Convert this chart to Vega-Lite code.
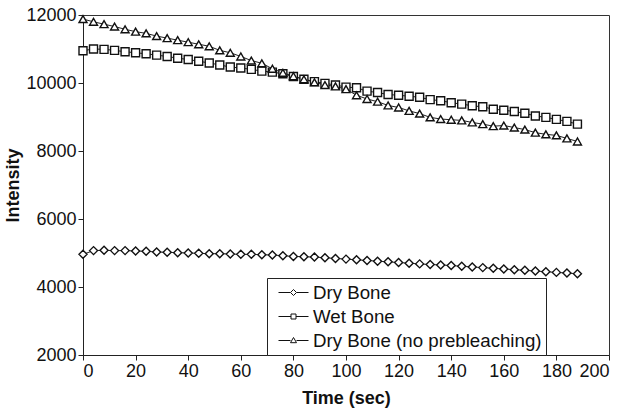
{
  "$schema": "https://vega.github.io/schema/vega-lite/v6.json",
  "width": 526,
  "height": 340,
  "autosize": {"type": "none"},
  "padding": {"left": 83, "top": 15, "right": 18, "bottom": 62},
  "background": "white",
  "config": {
    "font": "Liberation Sans",
    "view": {"stroke": "#333", "strokeWidth": 1},
    "axis": {
      "labelFont": "Liberation Sans", "labelFontSize": 18, "labelColor": "#111",
      "titleFont": "Liberation Sans", "titleFontSize": 18, "titleFontWeight": "bold", "titleColor": "#111",
      "domainColor": "#222", "tickColor": "#222", "tickSize": 5, "grid": false, "labelPadding": 2, "format": "d"
    }
  },
  "datasets": {
    "d": [
      {"t":0,"v":4960,"s":"Dry Bone"},{"t":4,"v":5070,"s":"Dry Bone"},{"t":8,"v":5080,"s":"Dry Bone"},{"t":12,"v":5070,"s":"Dry Bone"},{"t":16,"v":5070,"s":"Dry Bone"},{"t":20,"v":5060,"s":"Dry Bone"},{"t":24,"v":5050,"s":"Dry Bone"},{"t":28,"v":5030,"s":"Dry Bone"},{"t":32,"v":5020,"s":"Dry Bone"},{"t":36,"v":5010,"s":"Dry Bone"},{"t":40,"v":5000,"s":"Dry Bone"},{"t":44,"v":4990,"s":"Dry Bone"},{"t":48,"v":4980,"s":"Dry Bone"},{"t":52,"v":4980,"s":"Dry Bone"},{"t":56,"v":4970,"s":"Dry Bone"},{"t":60,"v":4960,"s":"Dry Bone"},{"t":64,"v":4960,"s":"Dry Bone"},{"t":68,"v":4950,"s":"Dry Bone"},{"t":72,"v":4940,"s":"Dry Bone"},{"t":76,"v":4920,"s":"Dry Bone"},{"t":80,"v":4900,"s":"Dry Bone"},{"t":84,"v":4890,"s":"Dry Bone"},{"t":88,"v":4880,"s":"Dry Bone"},{"t":92,"v":4860,"s":"Dry Bone"},{"t":96,"v":4840,"s":"Dry Bone"},{"t":100,"v":4820,"s":"Dry Bone"},{"t":104,"v":4800,"s":"Dry Bone"},{"t":108,"v":4780,"s":"Dry Bone"},{"t":112,"v":4760,"s":"Dry Bone"},{"t":116,"v":4740,"s":"Dry Bone"},{"t":120,"v":4720,"s":"Dry Bone"},{"t":124,"v":4700,"s":"Dry Bone"},{"t":128,"v":4680,"s":"Dry Bone"},{"t":132,"v":4660,"s":"Dry Bone"},{"t":136,"v":4650,"s":"Dry Bone"},{"t":140,"v":4630,"s":"Dry Bone"},{"t":144,"v":4610,"s":"Dry Bone"},{"t":148,"v":4590,"s":"Dry Bone"},{"t":152,"v":4570,"s":"Dry Bone"},{"t":156,"v":4550,"s":"Dry Bone"},{"t":160,"v":4530,"s":"Dry Bone"},{"t":164,"v":4510,"s":"Dry Bone"},{"t":168,"v":4490,"s":"Dry Bone"},{"t":172,"v":4470,"s":"Dry Bone"},{"t":176,"v":4450,"s":"Dry Bone"},{"t":180,"v":4430,"s":"Dry Bone"},{"t":184,"v":4410,"s":"Dry Bone"},{"t":188,"v":4390,"s":"Dry Bone"},
      {"t":0,"v":10950,"s":"Wet Bone"},{"t":4,"v":11000,"s":"Wet Bone"},{"t":8,"v":10990,"s":"Wet Bone"},{"t":12,"v":10960,"s":"Wet Bone"},{"t":16,"v":10920,"s":"Wet Bone"},{"t":20,"v":10890,"s":"Wet Bone"},{"t":24,"v":10860,"s":"Wet Bone"},{"t":28,"v":10820,"s":"Wet Bone"},{"t":32,"v":10780,"s":"Wet Bone"},{"t":36,"v":10730,"s":"Wet Bone"},{"t":40,"v":10690,"s":"Wet Bone"},{"t":44,"v":10640,"s":"Wet Bone"},{"t":48,"v":10590,"s":"Wet Bone"},{"t":52,"v":10530,"s":"Wet Bone"},{"t":56,"v":10470,"s":"Wet Bone"},{"t":60,"v":10440,"s":"Wet Bone"},{"t":64,"v":10400,"s":"Wet Bone"},{"t":68,"v":10350,"s":"Wet Bone"},{"t":72,"v":10320,"s":"Wet Bone"},{"t":76,"v":10270,"s":"Wet Bone"},{"t":80,"v":10190,"s":"Wet Bone"},{"t":84,"v":10110,"s":"Wet Bone"},{"t":88,"v":10040,"s":"Wet Bone"},{"t":92,"v":9990,"s":"Wet Bone"},{"t":96,"v":9940,"s":"Wet Bone"},{"t":100,"v":9880,"s":"Wet Bone"},{"t":104,"v":9860,"s":"Wet Bone"},{"t":108,"v":9760,"s":"Wet Bone"},{"t":112,"v":9720,"s":"Wet Bone"},{"t":116,"v":9660,"s":"Wet Bone"},{"t":120,"v":9640,"s":"Wet Bone"},{"t":124,"v":9610,"s":"Wet Bone"},{"t":128,"v":9580,"s":"Wet Bone"},{"t":132,"v":9510,"s":"Wet Bone"},{"t":136,"v":9480,"s":"Wet Bone"},{"t":140,"v":9420,"s":"Wet Bone"},{"t":144,"v":9380,"s":"Wet Bone"},{"t":148,"v":9330,"s":"Wet Bone"},{"t":152,"v":9300,"s":"Wet Bone"},{"t":156,"v":9230,"s":"Wet Bone"},{"t":160,"v":9200,"s":"Wet Bone"},{"t":164,"v":9160,"s":"Wet Bone"},{"t":168,"v":9110,"s":"Wet Bone"},{"t":172,"v":9030,"s":"Wet Bone"},{"t":176,"v":8990,"s":"Wet Bone"},{"t":180,"v":8930,"s":"Wet Bone"},{"t":184,"v":8870,"s":"Wet Bone"},{"t":188,"v":8790,"s":"Wet Bone"},
      {"t":0,"v":11880,"s":"Dry Bone (no prebleaching)"},{"t":4,"v":11800,"s":"Dry Bone (no prebleaching)"},{"t":8,"v":11730,"s":"Dry Bone (no prebleaching)"},{"t":12,"v":11660,"s":"Dry Bone (no prebleaching)"},{"t":16,"v":11580,"s":"Dry Bone (no prebleaching)"},{"t":20,"v":11510,"s":"Dry Bone (no prebleaching)"},{"t":24,"v":11460,"s":"Dry Bone (no prebleaching)"},{"t":28,"v":11380,"s":"Dry Bone (no prebleaching)"},{"t":32,"v":11320,"s":"Dry Bone (no prebleaching)"},{"t":36,"v":11260,"s":"Dry Bone (no prebleaching)"},{"t":40,"v":11200,"s":"Dry Bone (no prebleaching)"},{"t":44,"v":11140,"s":"Dry Bone (no prebleaching)"},{"t":48,"v":11080,"s":"Dry Bone (no prebleaching)"},{"t":52,"v":10960,"s":"Dry Bone (no prebleaching)"},{"t":56,"v":10890,"s":"Dry Bone (no prebleaching)"},{"t":60,"v":10780,"s":"Dry Bone (no prebleaching)"},{"t":64,"v":10660,"s":"Dry Bone (no prebleaching)"},{"t":68,"v":10580,"s":"Dry Bone (no prebleaching)"},{"t":72,"v":10420,"s":"Dry Bone (no prebleaching)"},{"t":76,"v":10300,"s":"Dry Bone (no prebleaching)"},{"t":80,"v":10200,"s":"Dry Bone (no prebleaching)"},{"t":84,"v":10110,"s":"Dry Bone (no prebleaching)"},{"t":88,"v":10020,"s":"Dry Bone (no prebleaching)"},{"t":92,"v":9940,"s":"Dry Bone (no prebleaching)"},{"t":96,"v":9900,"s":"Dry Bone (no prebleaching)"},{"t":100,"v":9820,"s":"Dry Bone (no prebleaching)"},{"t":104,"v":9640,"s":"Dry Bone (no prebleaching)"},{"t":108,"v":9530,"s":"Dry Bone (no prebleaching)"},{"t":112,"v":9450,"s":"Dry Bone (no prebleaching)"},{"t":116,"v":9340,"s":"Dry Bone (no prebleaching)"},{"t":120,"v":9280,"s":"Dry Bone (no prebleaching)"},{"t":124,"v":9180,"s":"Dry Bone (no prebleaching)"},{"t":128,"v":9100,"s":"Dry Bone (no prebleaching)"},{"t":132,"v":8990,"s":"Dry Bone (no prebleaching)"},{"t":136,"v":8940,"s":"Dry Bone (no prebleaching)"},{"t":140,"v":8920,"s":"Dry Bone (no prebleaching)"},{"t":144,"v":8900,"s":"Dry Bone (no prebleaching)"},{"t":148,"v":8840,"s":"Dry Bone (no prebleaching)"},{"t":152,"v":8790,"s":"Dry Bone (no prebleaching)"},{"t":156,"v":8730,"s":"Dry Bone (no prebleaching)"},{"t":160,"v":8750,"s":"Dry Bone (no prebleaching)"},{"t":164,"v":8690,"s":"Dry Bone (no prebleaching)"},{"t":168,"v":8630,"s":"Dry Bone (no prebleaching)"},{"t":172,"v":8540,"s":"Dry Bone (no prebleaching)"},{"t":176,"v":8490,"s":"Dry Bone (no prebleaching)"},{"t":180,"v":8460,"s":"Dry Bone (no prebleaching)"},{"t":184,"v":8370,"s":"Dry Bone (no prebleaching)"},{"t":188,"v":8280,"s":"Dry Bone (no prebleaching)"}
    ]
  },
  "data": {"name": "d"},
  "encoding": {
    "x": {"field": "t", "type": "quantitative", "title": "Time (sec)",
          "scale": {"domain": [0, 200], "nice": false},
          "axis": {"values": [0,20,40,60,80,100,120,140,160,180,200], "titlePadding": 9}},
    "y": {"field": "v", "type": "quantitative", "title": "Intensity",
          "scale": {"domain": [2000, 12000], "nice": false, "zero": false},
          "axis": {"values": [2000,4000,6000,8000,10000,12000], "titlePadding": 3}}
  },
  "layer": [
    {
      "mark": {"type": "line", "color": "#222", "strokeWidth": 1},
      "encoding": {"detail": {"field": "s"}}
    },
    {
      "mark": {"type": "point", "filled": false, "fill": "white", "fillOpacity": 1, "stroke": "#111", "strokeWidth": 1.4, "size": 64, "opacity": 1},
      "encoding": {
        "shape": {"field": "s", "type": "nominal",
                  "scale": {"domain": ["Dry Bone", "Wet Bone", "Dry Bone (no prebleaching)"], "range": ["diamond", "square", "triangle-up"]},
                  "legend": null}
      }
    },
    {
      "mark": {"type": "point", "stroke": "#111", "strokeWidth": 1, "size": 400, "opacity": 0},
      "encoding": {
        "shape": {"field": "s", "type": "nominal",
                  "scale": {"domain": ["Dry Bone", "Wet Bone", "Dry Bone (no prebleaching)"],
                            "range": [
                              "M-0.3,0H0.88M1.52,0H2.7M1.2,-0.3L1.5,0L1.2,0.3L0.9,0Z",
                              "M-0.3,0H0.95M1.45,0H2.7M0.95,-0.25H1.45V0.25H0.95Z",
                              "M-0.3,0H0.9M1.5,0H2.7M1.2,-0.3L1.5,0.22L0.9,0.22Z"
                            ]},
                  "legend": {
                    "title": null, "orient": "none", "legendX": 184, "legendY": 263,
                    "strokeColor": "#222", "fillColor": "white", "padding": 4, "cornerRadius": 0,
                    "labelFont": "Liberation Sans", "labelFontSize": 18.7, "labelColor": "#111", "labelLimit": 400,
                    "labelOffset": 21, "rowPadding": 3,
                    "symbolOpacity": 1, "symbolStrokeColor": "#111", "symbolStrokeWidth": 1,
                    "symbolSize": 400
                  }}
      }
    }
  ],
  "resolve": {"scale": {"shape": "independent"}, "legend": {"shape": "independent"}}
}
